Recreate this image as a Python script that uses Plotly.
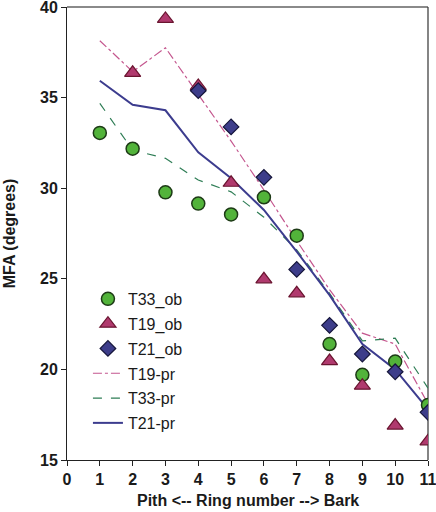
import plotly.graph_objects as go

ring = [1, 2, 3, 4, 5, 6, 7, 8, 9, 10, 11]

t33_ob = [33.05, 32.18, 29.77, 29.15, 28.55, 29.5, 27.38, 21.4, 19.7, 20.43, 18.04]
t19_ob = [None, 36.37, 39.34, 35.64, 30.3, 24.97, 24.2, 20.46, 19.1, 16.9, 16.03]
t21_ob = [None, None, None, 35.38, 33.38, 30.6, 25.52, 22.43, 20.85, 19.87, 17.63]

t19_pr = [38.14, 36.43, 37.75, 35.2, 32.6, 29.9, 27.1, 24.4, 22.0, 21.4, 18.1]
t33_pr = [34.68, 32.1, 31.65, 30.45, 29.8, 28.4, 26.6, 24.2, 21.57, 21.72, 18.97]
t21_pr = [35.93, 34.6, 34.3, 31.98, 30.55, 28.8, 26.5, 24.1, 21.4, 20.0, 17.8]

x_ticks = list(range(0, 12))
y_ticks = [15, 20, 25, 30, 35, 40]

x_title = "Pith <-- Ring number --> Bark"
y_title = "MFA (degrees)"

FONT = "Liberation Sans, Arial, sans-serif"

fig = go.Figure()

fig.add_trace(go.Scatter(x=ring, y=t19_pr, mode="lines", name="T19-pr",
                         legendgroup="g4",
                         line=dict(color="#c4568e", width=1.2, dash="dashdot"),
                         legendrank=4))
fig.add_trace(go.Scatter(x=ring, y=t33_pr, mode="lines", name="T33-pr",
                         legendgroup="g5",
                         line=dict(color="#2e7d55", width=1.2, dash="dash"),
                         legendrank=5))
fig.add_trace(go.Scatter(x=ring, y=t21_pr, mode="lines", name="T21-pr",
                         legendgroup="g6",
                         line=dict(color="#3c3c8e", width=2),
                         legendrank=6))

fig.add_trace(go.Scatter(x=ring, y=t33_ob, mode="markers", name="T33_ob",
                         legendgroup="g1",
                         marker=dict(symbol="circle", size=13, color="#52b33a",
                                     line=dict(color="#1d3a16", width=1.5)),
                         legendrank=1))
fig.add_trace(go.Scatter(x=ring, y=t19_ob, mode="markers", name="T19_ob",
                         legendgroup="g2",
                         marker=dict(symbol="triangle-up", size=14, color="#b03a6e",
                                     line=dict(color="#6a1530", width=1.2)),
                         legendrank=2))
fig.add_trace(go.Scatter(x=ring, y=t21_ob, mode="markers", name="T21_ob",
                         legendgroup="g3",
                         marker=dict(symbol="diamond", size=12, color="#3d3d8a",
                                     line=dict(color="#15153a", width=1.2)),
                         legendrank=3))

fig.update_layout(
    width=436, height=512,
    margin=dict(l=67, r=8, t=7, b=52, autoexpand=False),
    paper_bgcolor="white", plot_bgcolor="white",
    font=dict(family=FONT, color="#1a1a1a"),
    showlegend=True,
    legend=dict(x=0.058, y=0.393, xanchor="left", yanchor="top",
                bgcolor="rgba(0,0,0,0)", font=dict(size=16, family=FONT),
                tracegroupgap=1, itemwidth=30),
    xaxis=dict(range=[0, 11], tickvals=x_ticks, ticks="outside", ticklen=5,
               tickcolor="#222", showline=True, linecolor="#222", linewidth=1,
               showgrid=False, zeroline=False, ticklabeloverflow="allow",
               automargin=False,
               tickfont=dict(size=16, family=FONT, weight="bold")),
    yaxis=dict(range=[15, 40], tickvals=y_ticks, ticks="outside", ticklen=5,
               tickcolor="#222", showline=True, linecolor="#222", linewidth=1,
               showgrid=False, zeroline=False, ticklabeloverflow="allow",
               automargin=False,
               tickfont=dict(size=16, family=FONT, weight="bold"),
               title=dict(text="<b>" + y_title + "</b>",
                          font=dict(size=16, family=FONT), standoff=20)),
)

fig.add_annotation(text="<b>" + x_title + "</b>", xref="paper", yref="paper",
                   x=0.5, y=-0.089, xanchor="center", yanchor="middle",
                   showarrow=False, font=dict(size=16, family=FONT, color="#1a1a1a"))

fig.add_shape(type="line", xref="paper", yref="paper", x0=0, x1=1, y0=1, y1=1,
              line=dict(color="#8a8a8a", width=2), layer="below")
fig.add_shape(type="line", xref="paper", yref="paper", x0=1, x1=1, y0=0, y1=1,
              line=dict(color="#333333", width=1.2), layer="below")

fig.write_html("out.html")
